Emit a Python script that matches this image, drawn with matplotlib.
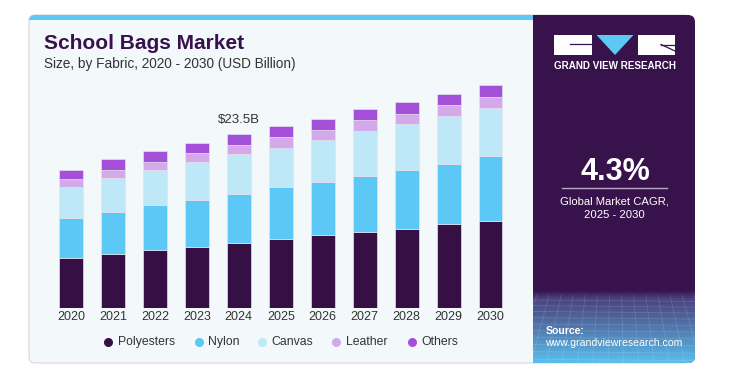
import numpy as np
import matplotlib
matplotlib.use("Agg")
import matplotlib.pyplot as plt
from matplotlib.patches import FancyBboxPatch, Rectangle, Polygon
from matplotlib.transforms import Bbox, TransformedBbox

plt.rcParams['font.family'] = ['Liberation Sans', 'DejaVu Sans']

# ---------------- data ----------------
years = ["2020", "2021", "2022", "2023", "2024", "2025", "2026", "2027", "2028", "2029", "2030"]
polyesters = [6.8, 7.3, 7.8, 8.2, 8.7, 9.3, 9.8, 10.3, 10.7, 11.3, 11.8]
nylon      = [5.3, 5.7, 6.1, 6.4, 6.7, 7.0, 7.2, 7.6, 8.0, 8.2, 8.7]
canvas     = [4.3, 4.6, 4.8, 5.1, 5.4, 5.4, 5.7, 6.0, 6.2, 6.5, 6.6]
leather    = [1.0, 1.1, 1.1, 1.2, 1.3, 1.4, 1.4, 1.5, 1.4, 1.4, 1.4]
others     = [1.3, 1.4, 1.4, 1.4, 1.4, 1.5, 1.5, 1.5, 1.6, 1.6, 1.7]
series_names = ["Polyesters", "Nylon", "Canvas", "Leather", "Others"]
series_colors = ["#361044", "#5BC8F5", "#BEE8F8", "#D4A9EA", "#A550D8"]
highlight_year = "2024"
cagr_text = "4.3%"

W, H = 754, 370
fig = plt.figure(figsize=(W / 100, H / 100), dpi=100)
fig.patch.set_facecolor("white")

# background axes in pixel coordinates
bg = fig.add_axes([0, 0, 1, 1])
bg.set_xlim(0, W)
bg.set_ylim(H, 0)
bg.axis("off")

# left card
card = FancyBboxPatch((29, 15), 690 - 29, 363 - 15, boxstyle="round,pad=0,rounding_size=6",
                      facecolor="#F3F8FB", edgecolor="#D5D8DC", lw=0.8, zorder=1)
bg.add_patch(card)
strip = Rectangle((29, 15), 533 - 29, 4.5, facecolor="#5BC8F5", edgecolor="none", zorder=2)
strip.set_clip_path(card)
bg.add_patch(strip)

# right panel: rounded right corners, square left edge at x=533
right_box = TransformedBbox(Bbox([[533, 0], [754, 370]]), bg.transData)
panel = FancyBboxPatch((515, 15), 695 - 515, 363 - 15, boxstyle="round,pad=0,rounding_size=7",
                       facecolor="#37124B", edgecolor="none", zorder=3)
bg.add_patch(panel)
panel.set_clip_box(right_box)

# gradient at bottom of right panel
n = 200
top_c = np.array([0x37, 0x12, 0x4B]) / 255
mid_c = np.array([0x4B, 0x44, 0x80]) / 255
bot_c = np.array([0x5A, 0xC0, 0xEE]) / 255
img = np.zeros((n, 2, 3))
for i, t in enumerate(np.linspace(0, 1, n)):
    if t < 0.12:
        c = top_c + (mid_c - top_c) * (t / 0.12)
    else:
        c = mid_c + (bot_c - mid_c) * ((t - 0.12) / 0.88) ** 1.1
    img[i, :, :] = c
im = bg.imshow(img, extent=[515, 696, 363, 290], aspect="auto", zorder=4, interpolation="bilinear")
im.set_clip_path(panel)
im.set_clip_box(right_box)
# faint grid lines for texture
for k in range(12):
    y = 300 + k * 5.5 + k * k * 0.12
    ln, = bg.plot([533, 696], [y, y + 1.5], color="white", alpha=0.13, lw=0.6, zorder=4.5)
    ln.set_clip_path(panel)
for k in range(16):
    x0 = 533 + k * 11
    ln, = bg.plot([x0 + (x0 - 615) * 0.1, x0 + (x0 - 615) * 0.4], [295, 363], color="white",
                  alpha=0.13, lw=0.6, zorder=4.5)
    ln.set_clip_path(panel)

# logo
bg.add_patch(Rectangle((554, 35), 37.5, 19.5, facecolor="white", edgecolor="none", zorder=6))
bg.plot([570, 591.5], [43.5, 43.5], color="#37124B", lw=0.9, zorder=7)
bg.add_patch(Polygon([[596.5, 35], [633.5, 35], [615, 55]], closed=True, facecolor="#5BC8F5",
                     edgecolor="none", zorder=6))
bg.add_patch(Rectangle((638, 35), 37, 19.5, facecolor="white", edgecolor="none", zorder=6))
bg.plot([661, 675], [44.5, 51], color="#37124B", lw=0.9, zorder=7)
bg.plot([661, 675], [44.5, 44.5], color="#37124B", lw=0.9, zorder=7)
bg.text(614.5, 66, "GRAND VIEW RESEARCH", color="white", fontsize=7.1, fontweight="bold",
        ha="center", va="center", zorder=7)

# CAGR
bg.text(615, 172, cagr_text, color="white", fontsize=22, fontweight="bold", ha="center", va="center", zorder=7)
bg.plot([562, 667], [188, 188], color="#B9A8C8", lw=1.0, zorder=7)
bg.text(614.5, 201, "Global Market CAGR,", color="white", fontsize=8.1, ha="center", va="center", zorder=7)
bg.text(614.5, 214.5, "2025 - 2030", color="white", fontsize=8.1, ha="center", va="center", zorder=7)

# source
bg.text(545.5, 331.5, "Source:", color="white", fontsize=7.6, fontweight="bold", ha="left", va="center", zorder=7)
bg.text(545.5, 343.5, "www.grandviewresearch.com", color="white", fontsize=7.6, ha="left", va="center", zorder=7)

# titles
bg.text(44.5, 49, "School Bags Market", color="#37124B", fontsize=15, fontweight="bold",
        ha="left", va="baseline", zorder=7)
bg.text(44.5, 68, "Size, by Fabric, 2020 - 2030 (USD Billion)", color="#333333", fontsize=9.8,
        ha="left", va="baseline", zorder=7)

# ---------------- chart ----------------
base_px = 307.7
px_per_unit = 7.38
ymax = 32
ax_left, ax_right = 50.0, 511.5
ax = fig.add_axes([ax_left / W, (H - base_px) / H, (ax_right - ax_left) / W, ymax * px_per_unit / H])
ax.set_facecolor("none")
ax.set_xlim(-0.5, len(years) - 0.5)
ax.set_ylim(0, ymax)
x = np.arange(len(years))
bottom = np.zeros(len(years))
for vals, name, col in zip([polyesters, nylon, canvas, leather, others], series_names, series_colors):
    ax.bar(x, vals, width=0.57, bottom=bottom, color=col, edgecolor="#E6E0EE", linewidth=0.5,
           label=name, zorder=3)
    bottom = bottom + np.array(vals)

hi = years.index(highlight_year)
ax.text(x[hi], bottom[hi] + 1.9, f"${bottom[hi]:.1f}B", ha="center", va="center", fontsize=9.5, color="#333333")

ax.set_xticks(x)
ax.set_xticklabels(years, fontsize=9, color="#333333")
ax.tick_params(axis="x", length=0, pad=2.5)
ax.set_yticks([])
for s in ax.spines.values():
    s.set_visible(False)

# legend (manual positioning)
leg_y = 342
leg_x = [108.3, 198.7, 262.3, 336.3, 411.7]
for lx, name, col in zip(leg_x, series_names, series_colors):
    bg.plot([lx], [leg_y], marker="o", ms=6.5, color=col, mec="none", zorder=7)
    bg.text(lx + 9.5, leg_y + 3.3, name, fontsize=8.8, color="#333333", ha="left", va="baseline", zorder=7)

fig.savefig("out.png", dpi=100, facecolor=fig.get_facecolor())
